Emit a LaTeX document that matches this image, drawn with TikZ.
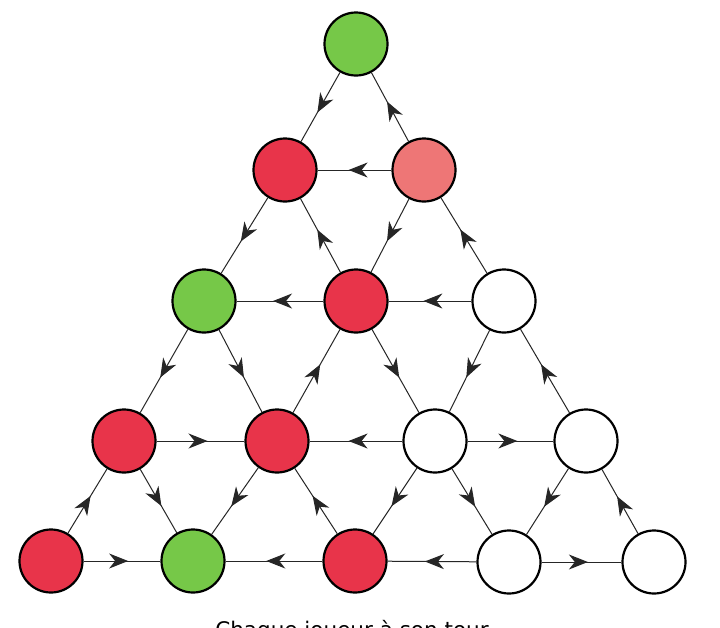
\documentclass[tikz,border=0pt]{standalone}
\usepackage{fontspec}
\newfontfamily\capfont{DejaVu Sans}
\usetikzlibrary{arrows.meta,decorations.markings}

\definecolor{pawngreen}{RGB}{118,200,72}
\definecolor{pawnred}{RGB}{232,52,74}
\definecolor{pawnpink}{RGB}{238,118,118}

\tikzset{
    hole/.style={draw, circle, line width=2.2pt, minimum size=63pt, inner sep=0pt, fill=white},
    green hole/.style={hole, fill=pawngreen},
    red hole/.style={hole, fill=pawnred},
    pink hole/.style={hole, fill=pawnpink},
    flow/.style={line width=1pt, black!85,
        postaction={decorate},
        decoration={markings, mark=at position 0.58 with {\arrow{Stealth[length=19pt,width=15pt,inset=6pt]}}}}
}

\begin{document}
\begin{tikzpicture}[x=1pt,y=-1pt]
    \useasboundingbox (0,0) rectangle (720,627);
    \fill[white] (0,0) rectangle (720,627);

    % Row 1 (top)
    \node[green hole] (T) at (356,44) {};
    % Row 2
    \node[red hole]  (a) at (285,170) {};
    \node[pink hole] (b) at (424,170) {};
    % Row 3
    \node[green hole] (c) at (204,301) {};
    \node[red hole]   (d) at (356,301) {};
    \node[hole]       (e) at (504,301) {};
    % Row 4
    \node[red hole] (f) at (124,441) {};
    \node[red hole] (g) at (277,441) {};
    \node[hole]     (h) at (435,441) {};
    \node[hole]     (i) at (586,441) {};
    % Row 5 (bottom)
    \node[red hole]   (j) at (51,561) {};
    \node[green hole] (k) at (193,561) {};
    \node[red hole]   (l) at (355,561) {};
    \node[hole]       (m) at (509,562) {};
    \node[hole]       (n) at (654,562) {};

    % Moves, top part
    \draw[flow] (T) -- (a);
    \draw[flow] (b) -- (T);
    \draw[flow] (b) -- (a);
    \draw[flow] (a) -- (c);
    \draw[flow] (d) -- (a);
    \draw[flow] (b) -- (d);
    \draw[flow] (e) -- (b);
    \draw[flow] (d) -- (c);
    \draw[flow] (e) -- (d);

    % Moves, middle part
    \draw[flow] (c) -- (f);
    \draw[flow] (c) -- (g);
    \draw[flow] (g) -- (d);
    \draw[flow] (d) -- (h);
    \draw[flow] (e) -- (h);
    \draw[flow] (i) -- (e);
    \draw[flow] (f) -- (g);
    \draw[flow] (h) -- (g);
    \draw[flow] (h) -- (i);

    % Moves, bottom part
    \draw[flow] (j) -- (f);
    \draw[flow] (f) -- (k);
    \draw[flow] (g) -- (k);
    \draw[flow] (l) -- (g);
    \draw[flow] (h) -- (l);
    \draw[flow] (h) -- (m);
    \draw[flow] (i) -- (m);
    \draw[flow] (n) -- (i);
    \draw[flow] (j) -- (k);
    \draw[flow] (l) -- (k);
    \draw[flow] (m) -- (l);
    \draw[flow] (m) -- (n);

    % Caption (cut by the page edge, as in the scan)
    \node[font=\capfont\fontsize{21.5}{24}\selectfont, anchor=north, inner sep=0pt] (caption) at (352,620) {Chaque joueur à son tour};
\end{tikzpicture}
\end{document}
